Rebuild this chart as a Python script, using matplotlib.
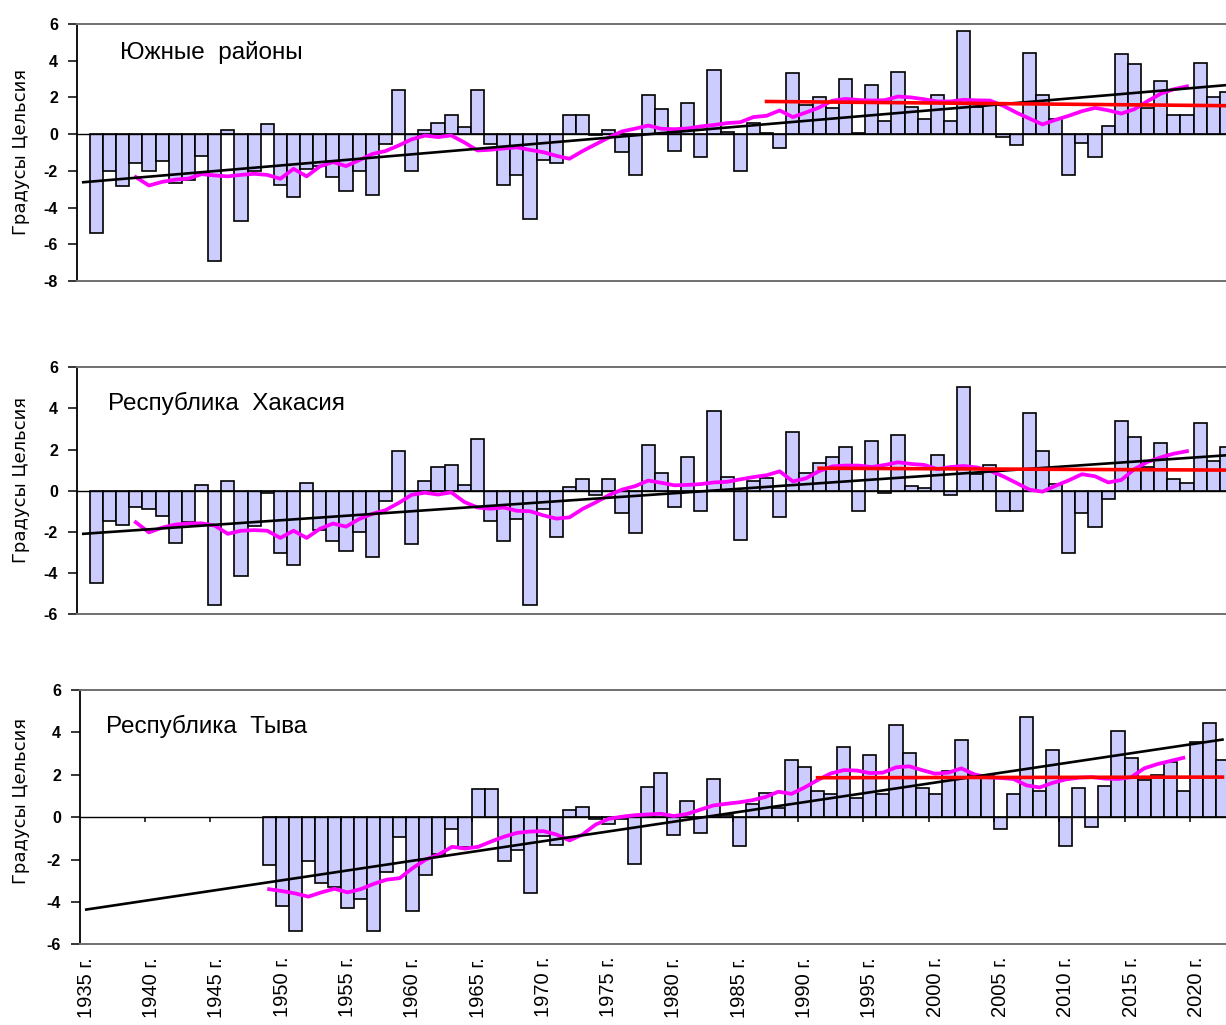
import matplotlib.pyplot as plt

plt.rcParams['font.family'] = ['Liberation Sans', 'DejaVu Sans']

W, H = 1226, 1025

# yearly anomalies, deg C
years_a = list(range(1936, 2023))
south = [-5.4, -2.0, -2.85, -1.55, -2.0, -1.45, -2.65, -2.5, -1.2, -6.9,
         0.2, -4.75, -2.0, 0.53, -2.75, -3.43, -1.9, -1.76, -2.34, -3.08,
         -2.0, -3.3, -0.55, 2.38, -2.0, 0.2, 0.62, 1.05, 0.38, 2.38,
         -0.56, -2.75, -2.2, -4.6, -1.43, -1.55, 1.05, 1.05, -0.05, 0.2,
         -1.0, -2.2, 2.14, 1.38, -0.9, 1.7, -1.22, 3.47, 0.1, -2.0,
         0.6, 0.05, -0.77, 3.34, 1.6, 2.0, 1.4, 3.0, 0.05, 2.7,
         0.7, 3.38, 1.5, 0.83, 2.14, 0.7, 5.64, 1.47, 1.6, -0.15,
         -0.58, 4.43, 2.14, 0.8, -2.2, -0.47, -1.22, 0.42, 4.34, 3.8,
         1.4, 2.92, 1.03, 1.03, 3.9, 2.03, 2.3]
khakasia = [-4.49, -1.49, -1.65, -0.78, -0.88, -1.25, -2.56, -1.54, 0.28, -5.56,
            0.49, -4.13, -1.7, -0.1, -3.03, -3.61, 0.37, -1.9, -2.43, -2.92,
            -2.03, -3.24, -0.52, 1.95, -2.6, 0.49, 1.13, 1.25, 0.28, 2.51,
            -1.49, -2.46, -1.38, -5.56, -0.9, -2.27, 0.19, 0.57, -0.19, 0.57,
            -1.09, -2.06, 2.2, 0.84, -0.81, 1.62, -1.0, 3.89, 0.65, -2.38,
            0.45, 0.6, -1.3, 2.84, 0.84, 1.35, 1.62, 2.14, -1.0, 2.43,
            -0.13, 2.71, 0.24, 0.13, 1.73, -0.21, 5.06, 0.8, 1.25, -1.0,
            -1.0, 3.78, 1.95, 0.3, -3.03, -1.09, -1.78, -0.4, 3.4, 2.62,
            1.15, 2.32, 0.57, 0.37, 3.29, 1.42, 2.13]
years_t = list(range(1949, 2023))
tyva = [-2.26, -4.17, -5.38, -2.08, -3.13, -3.3, -4.28, -3.88, -5.38, -2.58,
        -0.94, -4.43, -2.75, -1.75, -0.58, -1.4, 1.34, 1.34, -2.08, -1.53,
        -3.6, -0.9, -1.32, 0.36, 0.47, -0.11, -0.3, -0.1, -2.2, 1.42,
        2.09, -0.85, 0.75, -0.77, 1.78, 0.1, -1.34, 0.6, 1.12, 0.44,
        2.72, 2.36, 1.23, 1.07, 3.3, 0.91, 2.92, 1.07, 4.37, 3.03,
        1.38, 1.1, 2.17, 3.66, 2.0, 1.93, -0.58, 1.1, 4.72, 1.23,
        3.19, -1.34, 1.38, -0.47, 1.49, 4.06, 2.8, 1.73, 1.97, 2.61,
        1.23, 3.54, 4.42, 2.72]

# smoothed curve (magenta)
ma_years_a = list(range(1939, 2020))
south_ma = [-2.34, -2.8, -2.6, -2.48, -2.42, -2.18, -2.25, -2.3, -2.22, -2.16,
            -2.22, -2.43, -1.89, -2.3, -1.76, -1.52, -1.74, -1.42, -1.08, -0.92,
            -0.62, -0.28, -0.08, -0.16, -0.07, -0.45, -0.89, -0.85, -0.78, -0.72,
            -0.86, -0.98, -1.18, -1.34, -0.92, -0.55, -0.18, 0.15, 0.3, 0.47,
            0.29, 0.27, 0.31, 0.42, 0.5, 0.6, 0.65, 0.93, 1.0, 1.29,
            0.93, 1.18, 1.45, 1.82, 1.92, 1.86, 1.83, 1.85, 2.05, 2.0,
            1.9, 1.78, 1.78, 1.87, 1.84, 1.83, 1.55, 1.18, 0.85, 0.53,
            0.78, 1.0, 1.25, 1.43, 1.3, 1.12, 1.36, 1.8, 2.2, 2.45, 2.6]
khakasia_ma = [-1.54, -2.03, -1.8, -1.65, -1.6, -1.59, -1.7, -2.1, -1.95, -1.92,
               -1.95, -2.3, -1.95, -2.3, -1.86, -1.6, -1.75, -1.38, -1.13, -0.95,
               -0.6, -0.2, -0.1, -0.19, -0.08, -0.55, -0.82, -0.88, -0.82, -0.98,
               -1.0, -1.2, -1.36, -1.3, -0.89, -0.57, -0.22, 0.05, 0.22, 0.49,
               0.38, 0.26, 0.28, 0.32, 0.4, 0.43, 0.55, 0.66, 0.75, 0.94,
               0.45, 0.6, 0.95, 1.18, 1.22, 1.22, 1.15, 1.25, 1.38, 1.3,
               1.25, 1.05, 1.15, 1.2, 1.13, 0.97, 0.7, 0.38, 0.05, -0.05,
               0.24, 0.5, 0.8, 0.7, 0.4, 0.52, 1.05, 1.4, 1.62, 1.8, 1.92]
ma_years_t = list(range(1949, 2020))
tyva_ma = [-3.4, -3.49, -3.6, -3.75, -3.55, -3.38, -3.55, -3.4, -3.15, -2.95,
           -2.88, -2.4, -2.0, -1.76, -1.4, -1.48, -1.4, -1.15, -0.92, -0.74,
           -0.68, -0.66, -0.82, -1.1, -0.82, -0.35, -0.08, 0.02, 0.09, 0.13,
           0.16, 0.05, 0.15, 0.35, 0.55, 0.63, 0.7, 0.8, 0.95, 1.2,
           1.1, 1.4, 1.75, 2.06, 2.22, 2.2, 2.08, 2.1, 2.35, 2.4,
           2.22, 2.05, 2.1, 2.3, 2.02, 1.88, 1.85, 1.8, 1.5, 1.4,
           1.62, 1.78, 1.86, 1.89, 1.82, 1.8, 1.88, 2.3, 2.5, 2.65, 2.8]

# linear trends (black) and recent-period level (red)
trend_years = [1935, 2022]
south_trend = [-2.62, 2.67]
khakasia_trend = [-2.1, 1.72]
tyva_trend = [-4.36, 3.66]

south_norm_years = [1987, 2022]
south_norm = [1.78, 1.55]
khakasia_norm_years = [1991, 2022]
khakasia_norm = [1.09, 1.0]
tyva_norm_years = [1991, 2022]
tyva_norm = [1.86, 1.89]

titles = ['Южные  районы', 'Республика  Хакасия', 'Республика  Тыва']
label_years = list(range(1935, 2021, 5))


def px_axes(left, right, top, bottom):
    return fig.add_axes([left / W, 1 - bottom / H, (right - left) / W, (bottom - top) / H])


def draw_panel(ax, yrs, vals, ma_yrs, ma_vals, tr_vals, n_yrs, n_vals, ylo):
    ax.bar(yrs, vals, width=1.0, color='#CCCCFF', edgecolor='black', linewidth=1.2, zorder=2)
    ax.axhline(0, color='black', lw=1.0, zorder=3)
    ax.plot(ma_yrs, ma_vals, color='#FF00FF', lw=2.7, zorder=4)
    ax.plot(trend_years, tr_vals, color='black', lw=1.9, zorder=5)
    ax.plot(n_yrs, n_vals, color='#FF0000', lw=2.6, zorder=6)
    ax.set_xlim(1934.5, 2022.5)
    ax.set_ylim(ylo, 6)
    ticks = list(range(ylo, 7, 2))
    ax.set_yticks(ticks)
    ax.set_yticklabels([str(t) for t in ticks], fontsize=11.5, fontweight='bold')
    ax.tick_params(axis='y', direction='out', length=6.5, width=1.1, pad=7)
    ax.set_xticks([])
    ax.spines['right'].set_visible(False)
    for s in ('top', 'bottom'):
        ax.spines[s].set_color('#707070')
        ax.spines[s].set_linewidth(1.4)
    ax.spines['left'].set_color('black')
    ax.spines['left'].set_linewidth(1.3)


fig = plt.figure(figsize=(W / 100, H / 100), dpi=100)

ax1 = px_axes(76.7, 1233, 24, 281)
draw_panel(ax1, years_a, south, ma_years_a, south_ma, south_trend,
           south_norm_years, south_norm, -8)
ax2 = px_axes(76.7, 1233, 367.3, 614)
draw_panel(ax2, years_a, khakasia, ma_years_a, khakasia_ma, khakasia_trend,
           khakasia_norm_years, khakasia_norm, -6)
ax3 = px_axes(79.75, 1229, 690, 944.3)
draw_panel(ax3, years_t, tyva, ma_years_t, tyva_ma, tyva_trend,
           tyva_norm_years, tyva_norm, -6)

# category ticks on the zero line and rotated year labels below
ax3.vlines([y - 0.5 for y in label_years[1:]], 0, -0.25, color='black', lw=1.1, zorder=3)
ax3.set_xticks(label_years)
ax3.set_xticklabels([f'{y} г.' for y in label_years], rotation=90, fontsize=14.5)
ax3.tick_params(axis='x', length=0, pad=9)

title_pos = [(120, 52), (108, 403), (106, 726)]
label_y = [152, 480, 801]
for t, (x, y), ly in zip(titles, title_pos, label_y):
    fig.text(x / W, 1 - y / H, t, fontsize=17.5, ha='left', va='center')
    fig.text(21 / W, 1 - ly / H, 'Градусы Цельсия', fontsize=13, rotation=90,
             ha='center', va='center', family='DejaVu Sans')

fig.savefig('out.png', dpi=100)
